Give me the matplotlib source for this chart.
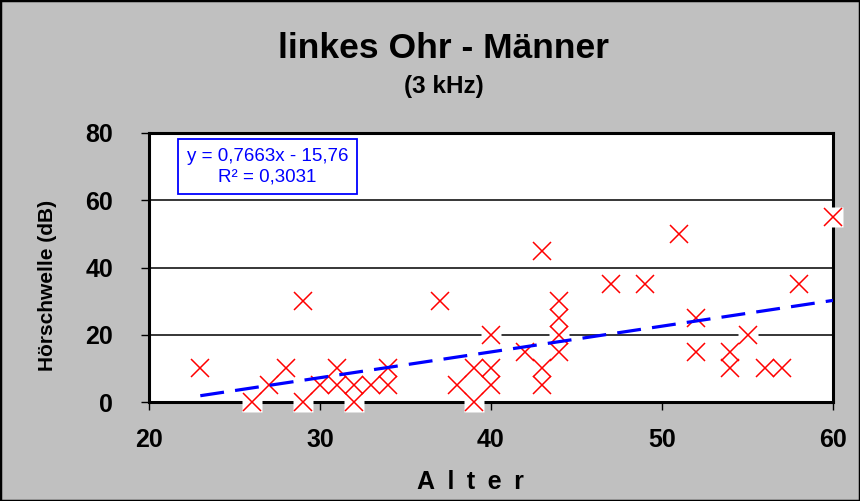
import matplotlib
matplotlib.use("Agg")
import matplotlib.pyplot as plt
from matplotlib.patches import Rectangle
import numpy as np

# ---- data ----
age = [23, 26, 27, 28, 29, 29, 30, 31, 31, 32, 32, 33, 34, 34, 37, 38, 39, 39,
       40, 40, 40, 42, 43, 43, 43, 44, 44, 44, 44, 47, 49, 51, 52, 52, 54, 54,
       55, 56, 57, 58, 60]
threshold = [10, 0, 5, 10, 30, 0, 5, 10, 5, 5, 0, 5, 10, 5, 30, 5, 10, 0,
             20, 10, 5, 15, 45, 10, 5, 30, 25, 20, 15, 35, 35, 50, 25, 15, 15, 10,
             20, 10, 10, 35, 55]
slope = 0.7663
intercept = -15.76
r_squared = 0.3031
x_ticks = [20, 30, 40, 50, 60]
y_ticks = [0, 20, 40, 60, 80]

title = "linkes Ohr - Männer"
subtitle = "(3 kHz)"
xlabel = "A\u2002l\u2002t\u2002e\u2002r"
ylabel = "Hörschwelle (dB)"
eq_text = "y = 0,7663x - 15,76\nR² = 0,3031"

plt.rcParams['font.family'] = ['Liberation Sans', 'DejaVu Sans']

fig = plt.figure(figsize=(8.6, 5.01), dpi=100, facecolor='#C0C0C0')
fig.patches.append(Rectangle((0, 0), 1, 1, transform=fig.transFigure,
                             fill=False, edgecolor='black', lw=2.5))

ax = fig.add_axes([149/860, 1-402/501, (833-149)/860, (402-133)/501])
ax.set_facecolor('white')
ax.set_xlim(20, 60)
ax.set_ylim(0, 80)
ax.set_xticks(x_ticks)
ax.set_yticks(y_ticks)
ax.set_xticklabels([str(v) for v in x_ticks], fontsize=18, fontweight='bold')
ax.set_yticklabels([str(v) for v in y_ticks], fontsize=18, fontweight='bold')
ax.tick_params(axis='y', direction='out', length=6, width=1, pad=20, colors='black')
ax.tick_params(axis='x', direction='out', length=6, width=1, pad=13, colors='black')

for s in ax.spines.values():
    s.set_linewidth(2.2)
    s.set_color('black')
    s.set_zorder(2.5)

for gy in [20, 40, 60]:
    ax.axhline(gy, color='black', lw=1.1, zorder=1)

# markers: white square background, then red x
ax.plot(age, threshold, linestyle='none', marker='s', markersize=14,
        markerfacecolor='white', markeredgecolor='none', clip_on=False, zorder=3)
ax.plot(age, threshold, linestyle='none', marker='x', markersize=13,
        markeredgecolor='red', markeredgewidth=1.1, clip_on=False, zorder=4)

# trend line
xl = np.array([min(age), max(age)])
ax.plot(xl, slope*xl + intercept, color='#0000FF', lw=2.3, dashes=(7.5, 3.5),
        zorder=5, solid_capstyle='butt', dash_capstyle='butt')

# equation box
ax.text(0.173, 0.875, eq_text, transform=ax.transAxes, ha='center', va='center',
        fontsize=13.5, color='#0000FF', linespacing=1.3, zorder=6,
        bbox=dict(boxstyle='square,pad=0.45', facecolor='white',
                  edgecolor='#0000FF', lw=1.3))

fig.text(0.516, 0.904, title, ha='center', va='center', fontsize=25.5, fontweight='bold')
fig.text(0.516, 0.828, subtitle, ha='center', va='center', fontsize=17.5, fontweight='bold')
fig.text(0.547, 0.038, xlabel, ha='center', va='center', fontsize=18, fontweight='bold')
fig.text(0.055, 0.431, ylabel, ha='center', va='center', rotation=90,
         fontsize=15, fontweight='bold')

fig.savefig("out.png", dpi=100, facecolor=fig.get_facecolor())
